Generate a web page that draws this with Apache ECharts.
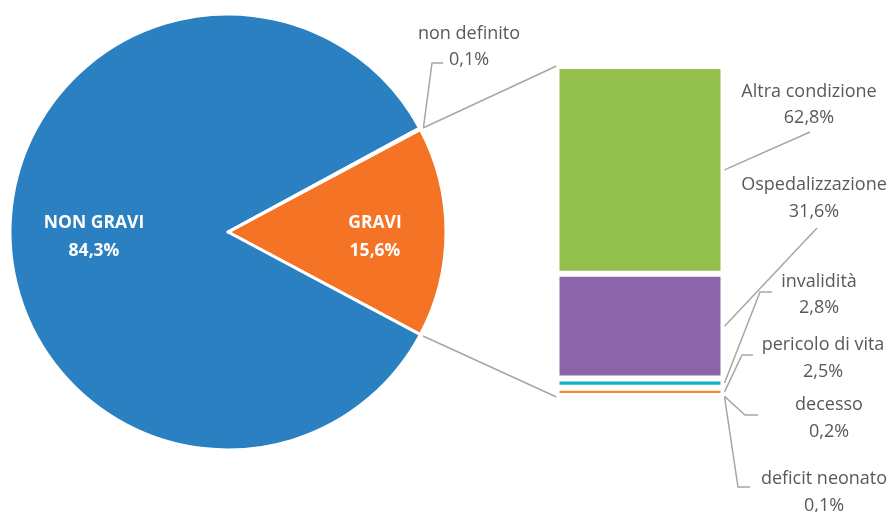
<!DOCTYPE html>
<html>
<head>
<meta charset="utf-8">
<script src="https://cdn.jsdelivr.net/npm/echarts@6/dist/echarts.min.js"></script>
<style>
  html, body { margin: 0; padding: 0; background: #fff; }
  #chart { width: 894px; height: 512px; }
</style>
</head>
<body>
<div id="chart"></div>
<script>
// Pie: severity of reported events
const pieNames = ['GRAVI', 'NON GRAVI', 'non definito'];
const pieValues = [15.6, 84.3, 0.1];
const pieColors = ['#F47324', '#2A80C0', '#8C8C8C'];

// Bar: breakdown of the serious events
const barNames = ['Altra condizione', 'Ospedalizzazione', 'invalidità', 'pericolo di vita', 'decesso', 'deficit neonato'];
const barValues = [62.8, 31.6, 2.8, 2.5, 0.2, 0.1];
const barColors = ['#93BF4F', '#8C64A8', '#18AFCC', '#F28B3A', '#4F81BD', '#C0504D'];

const FONT = '"Open Sans", Lato, sans-serif';
const TEXT = '#595959';
const LINE = '#A6A6A6';

const PIE_CENTER = [228, 232];
const PIE_R = 218;

function pct(v) { return v.toFixed(1).replace('.', ',') + '%'; }

const chart = echarts.init(document.getElementById('chart'), null, { renderer: 'canvas' });

// the serious slice is centred on the horizontal axis, pointing at the bar
const startAngle = pieValues[0] * 3.6 / 2;

const barSeries = barNames.map((name, i) => ({
  name: name,
  type: 'bar',
  stack: 'gravi',
  barWidth: '100%',
  data: [barValues[i]],
  itemStyle: { color: barColors[i], borderColor: '#fff', borderWidth: 3 },
  label: { show: false },
  silent: true
}));

chart.setOption({
  animation: false,
  grid: { left: 556.5, top: 66, width: 167, height: 331 },
  xAxis: { type: 'category', data: [''], show: false },
  yAxis: { type: 'value', min: 0, max: 100, inverse: true, show: false },
  series: [
    {
      type: 'pie',
      center: PIE_CENTER,
      radius: [0, PIE_R],
      startAngle: startAngle,
      clockwise: true,
      avoidLabelOverlap: false,
      silent: true,
      itemStyle: { borderColor: '#fff', borderWidth: 3 },
      label: {
        show: true,
        position: 'inside',
        color: '#fff',
        fontFamily: FONT,
        fontWeight: 'bold',
        fontSize: 17.5,
        lineHeight: 28,
        formatter: p => p.name + '\n' + pct(p.value)
      },
      labelLine: { show: false },
      labelLayout: p => (p.dataIndex === 0 ? { dx: 17.5, dy: 2.5 } : p.dataIndex === 1 ? { dx: -11, dy: 2.5 } : {}),
      data: pieNames.map((n, i) => ({
        name: n,
        value: pieValues[i],
        itemStyle: { color: pieColors[i] },
        label: { show: i < 2 }
      }))
    },
    ...barSeries
  ]
});

// Connector lines and outside labels, placed from the rendered geometry
function decorate() {
  const rect = chart.getModel().getComponent('grid', 0).coordinateSystem.getRect();
  const barLeft = rect.x, barRight = rect.x + rect.width;
  const yAt = v => chart.convertToPixel({ gridIndex: 0 }, [0, v])[1];
  const rad = a => a * Math.PI / 180;
  const edge = (deg, r) => [PIE_CENTER[0] + r * Math.cos(rad(deg)), PIE_CENTER[1] - r * Math.sin(rad(deg))];

  const topEdge = edge(startAngle, PIE_R + 3);
  const botEdge = edge(-startAngle, PIE_R + 3);
  const total = barValues.reduce((a, b) => a + b, 0);

  const elements = [];
  const poly = pts => ({
    type: 'polyline', silent: true,
    shape: { points: pts },
    style: { stroke: LINE, lineWidth: 1.5, fill: null }
  });
  const label = (x, y, txt) => ({
    type: 'text', silent: true, x: x, y: y,
    style: { text: txt, align: 'center', verticalAlign: 'middle', fill: TEXT, font: '18px ' + FONT, lineHeight: 26.5 }
  });

  // pie to bar connectors
  elements.push(poly([topEdge, [barLeft, yAt(0)]]));
  elements.push(poly([botEdge, [barLeft, yAt(total)]]));

  // "non definito" slice label
  const ndAngle = startAngle + pieValues[2] * 3.6 / 2;
  elements.push(poly([edge(ndAngle, PIE_R + 4), [432, 63], [443, 63]]));
  elements.push(label(469, 47, pieNames[2] + '\n' + pct(pieValues[2])));

  // bar segment labels: text centre and elbow points of each leader
  const spots = [
    { x: 809, y: 105, path: [[810, 132]] },
    { x: 814, y: 198.5, path: [[817, 228]] },
    { x: 819, y: 295, path: [[760, 292], [772, 292]] },
    { x: 823, y: 358.5, path: [[742, 355], [753, 355]] },
    { x: 829, y: 418.5, path: [[745, 415], [758, 415]] },
    { x: 824, y: 492.5, path: [[738, 487], [750, 487]] }
  ];
  let acc = 0;
  barValues.forEach((v, i) => {
    const mid = yAt(acc + v / 2);
    acc += v;
    const s = spots[i];
    elements.push(poly([[barRight + 1, mid]].concat(s.path)));
    elements.push(label(s.x, s.y, barNames[i] + '\n' + pct(v)));
  });

  chart.setOption({ graphic: { elements: elements } });
}
decorate();
</script>
</body>
</html>
